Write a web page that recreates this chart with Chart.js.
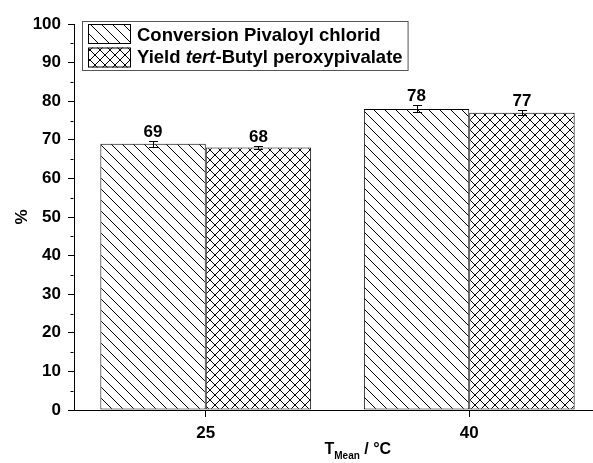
<!DOCTYPE html>
<html>
<head>
<meta charset="utf-8">
<script src="https://cdn.jsdelivr.net/npm/chart.js@4.4.1/dist/chart.umd.min.js"></script>
<style>
    html, body { margin: 0; padding: 0; background: #fff; }
    #wrap { width: 593px; height: 463px; overflow: hidden; }
    canvas { display: block; }
</style>
</head>
<body>
<div id="wrap"><canvas id="chart" width="601" height="463"></canvas></div>
<script>
// temperatures (x categories) and measured values in %
const categories = ['25', '40']
const conversionValues = [69, 78]
const conversionErrors = [0.8, 0.9]
const yieldValues = [68, 77]
const yieldErrors = [0.3, 0.6]
const legendLabels = [
    [['Conversion Pivaloyl chlorid', false]],
    [['Yield ', false], ['tert', true], ['-Butyl peroxypivalate', false]]
]

const FONT = '"Liberation Sans", Arial, sans-serif'
Chart.defaults.font.family = FONT
Chart.defaults.color = '#000'

const canvas = document.getElementById('chart')
const ctx = canvas.getContext('2d')

// hatch fills, like the Origin patterns
function makeHatch(size, cross) {
    const c = document.createElement('canvas')
    c.width = size
    c.height = size
    const g = c.getContext('2d')
    g.fillStyle = '#fff'
    g.fillRect(0, 0, size, size)
    g.strokeStyle = '#000'
    g.lineWidth = 1
    g.beginPath()
    g.moveTo(-1, -1)
    g.lineTo(size + 1, size + 1)
    if (cross) {
        g.moveTo(-1, size + 1)
        g.lineTo(size + 1, -1)
    }
    g.stroke()
    return ctx.createPattern(c, 'repeat')
}
const diagHatch = makeHatch(11, false)
const crossHatch = makeHatch(10, true)

// short minor ticks on the y axis
const minorTicks = {
    id: 'minorTicks',
    afterDraw(chart) {
        const y = chart.scales.y
        const c = chart.ctx
        const x0 = chart.chartArea.left - 0.5
        c.save()
        c.strokeStyle = '#000'
        c.lineWidth = 1
        c.beginPath()
        for (let v = 5; v < 100; v += 10) {
            const py = Math.round(y.getPixelForValue(v)) + 0.5
            c.moveTo(x0 - 3, py)
            c.lineTo(x0, py)
        }
        c.stroke()
        c.restore()
    }
}

// error bars and value labels on top of the bars
const errorBars = {
    id: 'errorBars',
    afterDatasetsDraw(chart) {
        const y = chart.scales.y
        const c = chart.ctx
        c.save()
        c.strokeStyle = '#000'
        c.fillStyle = '#000'
        c.lineWidth = 1
        c.font = 'bold 17px ' + FONT
        c.textAlign = 'center'
        c.textBaseline = 'alphabetic'
        chart.data.datasets.forEach((ds, di) => {
            chart.getDatasetMeta(di).data.forEach((bar, i) => {
                const v = ds.data[i]
                const e = ds.errors[i]
                const x = Math.round(bar.x) + 0.5
                const top = Math.round(y.getPixelForValue(v + e)) + 0.5
                const bot = Math.round(y.getPixelForValue(v - e)) + 0.5
                c.beginPath()
                c.moveTo(x, top)
                c.lineTo(x, bot)
                c.moveTo(x - 4.5, top)
                c.lineTo(x + 4.5, top)
                c.moveTo(x - 4.5, bot)
                c.lineTo(x + 4.5, bot)
                c.stroke()
                c.fillText(String(v), bar.x, top - 5)
            })
        })
        c.restore()
    }
}

// boxed legend inside the plot, with an italic part in the second label
const boxLegend = {
    id: 'boxLegend',
    afterDraw(chart) {
        const c = chart.ctx
        const left = chart.chartArea.left + 8
        const top = chart.chartArea.top - 3
        const rowH = 23.5
        const swW = 43, swH = 20
        const font = 'bold 18.5px ' + FONT
        const fills = chart.data.datasets.map(ds => ds.backgroundColor)
        c.save()
        let maxW = 0
        legendLabels.forEach(parts => {
            let w = 0
            parts.forEach(([txt, it]) => {
                c.font = (it ? 'italic ' : '') + font
                w += c.measureText(txt).width
            })
            maxW = Math.max(maxW, w)
        })
        const boxW = 6 + swW + 6 + maxW + 5
        const boxH = rowH * 2 + 2
        c.strokeStyle = '#555'
        c.lineWidth = 1
        c.strokeRect(left + 0.5, top + 0.5, boxW, boxH)
        legendLabels.forEach((parts, r) => {
            const sy = top + 3 + r * rowH
            c.fillStyle = fills[r]
            c.fillRect(left + 6, sy, swW, swH)
            c.strokeStyle = '#000'
            c.strokeRect(left + 6.5, sy + 0.5, swW - 1, swH - 1)
            let tx = left + 6 + swW + 6
            c.fillStyle = '#000'
            c.textBaseline = 'alphabetic'
            parts.forEach(([txt, it]) => {
                c.font = (it ? 'italic ' : '') + font
                c.fillText(txt, tx, sy + swH / 2 + (r === 0 ? 7 : 5))
                tx += c.measureText(txt).width
            })
        })
        c.restore()
    }
}

// x axis title with subscript
const xTitle = {
    id: 'xTitle',
    afterDraw(chart) {
        const c = chart.ctx
        const base = 454
        let x = (chart.chartArea.left + chart.chartArea.right) / 2 - 13
        c.save()
        c.fillStyle = '#000'
        c.textBaseline = 'alphabetic'
        c.textAlign = 'left'
        c.font = 'bold 16px ' + FONT
        c.fillText('T', x, base)
        x += c.measureText('T').width
        c.font = 'bold 10px ' + FONT
        c.fillText('Mean', x, base + 5)
        x += c.measureText('Mean').width
        c.font = 'bold 16px ' + FONT
        c.fillText(' / °C', x, base)
        c.restore()
    }
}

const config = {
    type: 'bar',
    data: {
        labels: categories,
        datasets: [
            {
                label: 'Conversion Pivaloyl chlorid',
                data: conversionValues,
                errors: conversionErrors,
                backgroundColor: diagHatch,
                borderColor: '#000',
                borderWidth: 1,
                borderSkipped: false
            },
            {
                label: 'Yield tert-Butyl peroxypivalate',
                data: yieldValues,
                errors: yieldErrors,
                backgroundColor: crossHatch,
                borderColor: '#000',
                borderWidth: 1,
                borderSkipped: false
            }
        ]
    },
    options: {
        responsive: false,
        animation: false,
        layout: { padding: { top: 24, left: 0, right: 0, bottom: 0 } },
        categoryPercentage: 0.8,
        barPercentage: 1.0,
        plugins: {
            legend: { display: false },
            tooltip: { enabled: false }
        },
        scales: {
            x: {
                afterFit: (scale) => { scale.height = 53 },
                grid: {
                    offset: false,
                    drawOnChartArea: false,
                    drawTicks: true,
                    tickLength: 7,
                    color: '#000'
                },
                border: { display: true, color: '#000', width: 1 },
                ticks: {
                    padding: 6,
                    color: '#000',
                    font: { size: 17, weight: 'bold' }
                }
            },
            y: {
                min: 0,
                max: 100,
                afterFit: (scale) => { scale.width = 74 },
                grid: {
                    drawOnChartArea: false,
                    drawTicks: true,
                    tickLength: 6,
                    color: '#000'
                },
                border: { display: true, color: '#000', width: 1 },
                ticks: {
                    stepSize: 10,
                    padding: 7,
                    color: '#000',
                    font: { size: 17, weight: 'bold' }
                },
                title: {
                    display: true,
                    text: '%',
                    color: '#000',
                    padding: { top: 12, bottom: 0 },
                    font: { size: 17, weight: 'bold' }
                }
            }
        }
    },
    plugins: [minorTicks, errorBars, boxLegend, xTitle]
}

new Chart(ctx, config)
</script>
</body>
</html>
